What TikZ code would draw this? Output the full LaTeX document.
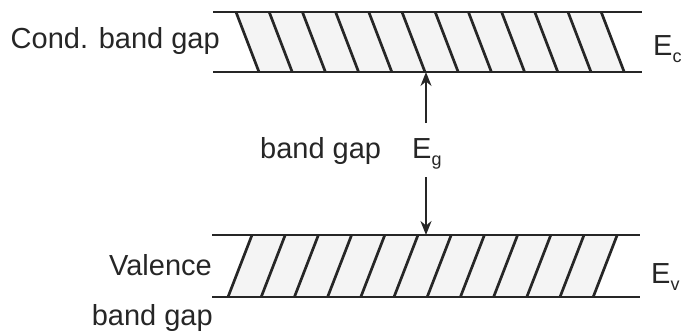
\documentclass[tikz,border=0pt]{standalone}
\usepackage{fontspec}
\setmainfont{Liberation Sans}
\usetikzlibrary{arrows.meta}
\newcommand{\lbsub}[1]{\raisebox{-7pt}{\fontsize{18}{18}\selectfont #1}}
\begin{document}
\begin{tikzpicture}[x=1pt,y=-1pt,
  level/.style={line width=2.2pt,draw=black!85},
  hatch/.style={line width=2.7pt,draw=black!85},
  bandfill/.style={fill=gray!9},
  lbl/.style={inner sep=0pt,text=black!85,font=\fontsize{29}{32}\selectfont},
  gaparrow/.style={line width=1.9pt,draw=black!85,-{Stealth[length=14pt,width=11pt]}}]
\useasboundingbox (0,0) rectangle (681,335);
% conduction band
\fill[bandfill] (236,12) -- (601,12) -- (624,72) -- (259,72) -- cycle;
\foreach \i in {0,...,11}{
  \draw[hatch] ({236+33.2*\i},12) -- ({259+33.2*\i},72);
}
\coordinate (ctl) at (213,12); \coordinate (ctr) at (642,12);
\coordinate (cbl) at (213,72); \coordinate (cbr) at (642,72);
\draw[level] (ctl) -- (ctr);
\draw[level] (cbl) -- (cbr);
% valence band
\fill[bandfill] (252,235) -- (617,235) -- (593,297) -- (228,297) -- cycle;
\foreach \i in {0,...,11}{
  \draw[hatch] ({228+33.2*\i},297) -- ({252+33.2*\i},235);
}
\coordinate (vtl) at (212,235); \coordinate (vtr) at (640,235);
\coordinate (vbl) at (212,297); \coordinate (vbr) at (640,297);
\draw[level] (vtl) -- (vtr);
\draw[level] (vbl) -- (vbr);
% labels
\node[lbl,anchor=base east] (cond) at (220,48) {Cond. band gap};
\node[lbl,anchor=base west] (ec) at (653,55) {E\lbsub{c}};
\node[lbl,anchor=base west] (bg) at (260,158) {band gap};
\node[lbl,anchor=base west] (eg) at (412,158) {E\lbsub{g}};
\node[lbl,anchor=base east] (val) at (212,275) {Valence};
\node[lbl,anchor=base east] (vbg) at (213,325) {band gap};
\node[lbl,anchor=base west] (ev) at (651,283) {E\lbsub{v}};
% gap arrows
\coordinate (au) at (426,123); \coordinate (aut) at (426,72);
\coordinate (ad) at (426,177); \coordinate (adt) at (426,235);
\draw[gaparrow] (au) -- (aut);
\draw[gaparrow] (ad) -- (adt);
\end{tikzpicture}
\end{document}
